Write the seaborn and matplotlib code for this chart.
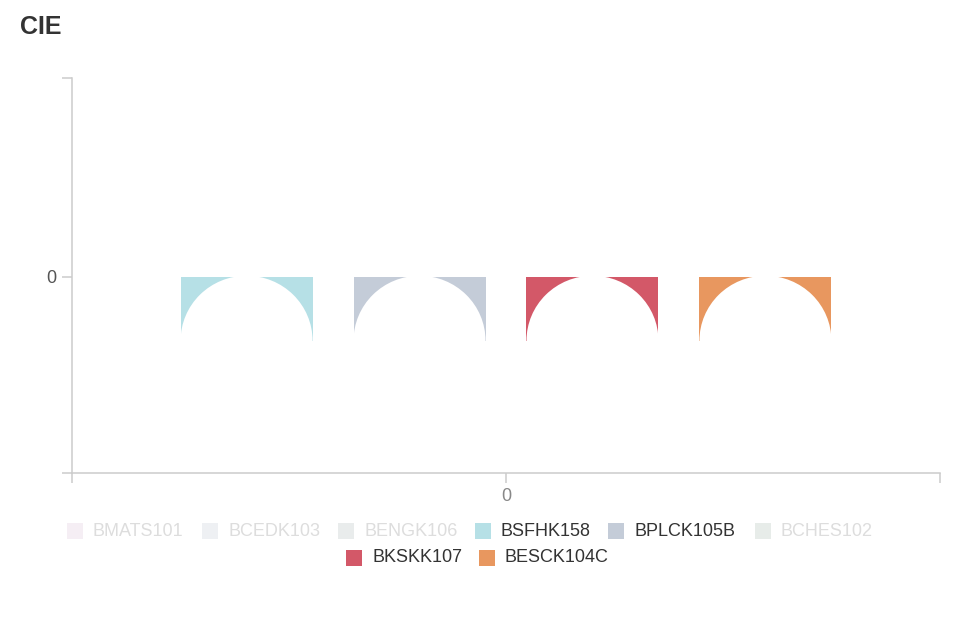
import matplotlib
matplotlib.use("Agg")
import matplotlib.pyplot as plt
from matplotlib.patches import Rectangle, Ellipse
import seaborn as sns
import pandas as pd

# ---- data ----
series_names = ["BMATS101", "BCEDK103", "BENGK106", "BSFHK158",
                "BPLCK105B", "BCHES102", "BKSKK107", "BESCK104C"]
series_colors = ["#b6e0e6", "#c4ccd8", "#e6ebe8", "#b6e0e6",
                 "#c4ccd8", "#e6ebe8", "#d35868", "#e8975f"]
hidden_icon_colors = ["#f5eef4", "#eef0f3", "#e9ecec", None,
                      None, "#e7ece9", None, None]
series_visible = [False, False, False, True, True, False, True, True]
category = "0"
visible_values = [-0.32, -0.32, -0.32, -0.32]   # BSFHK158, BPLCK105B, BKSKK107, BESCK104C

visible_names = [n for n, v in zip(series_names, series_visible) if v]
palette = {n: c for n, c in zip(series_names, series_colors)}
df = pd.DataFrame({"cat": [category] * len(visible_names),
                   "series": visible_names,
                   "value": visible_values})

# ---- style ----
sns.set_theme(style="ticks")
plt.rcParams["font.family"] = ["Liberation Sans", "DejaVu Sans"]

W, H = 961, 635
fig = plt.figure(figsize=(W / 100, H / 100), dpi=100)
ax = fig.add_axes([72 / W, 1 - 473 / H, 868 / W, 395 / H])

sns.barplot(data=df, x="cat", y="value", hue="series", hue_order=visible_names,
            palette=palette, width=0.797, gap=0.237, saturation=1,
            errorbar=None, linewidth=0, legend=False, ax=ax)

ax.set_xlim(-0.5, 0.5)
ax.set_ylim(-0.985, 1.0)
ax.set_xlabel("")
ax.set_ylabel("")
ax.set_xticks([-0.5, 0, 0.5], ["", category, ""])
ax.set_yticks([-0.985, 0, 1.0], ["", "0", ""])
axis_col = "#cccccc"
for s in ["top", "right"]:
    ax.spines[s].set_visible(False)
for s in ["left", "bottom"]:
    ax.spines[s].set_color(axis_col)
    ax.spines[s].set_linewidth(1.1)
ax.tick_params(axis="x", colors=axis_col, length=7, width=1.1, pad=4,
               labelsize=13, labelcolor="#888888")
ax.tick_params(axis="y", colors=axis_col, length=7, width=1.1, pad=4,
               labelsize=13, labelcolor="#555555")
ax.grid(False)

# cut-out arcs at the bottom of each bar (as rendered in the reference)
for bar in list(ax.patches):
    x, y = bar.get_x(), bar.get_y()
    w, h = bar.get_width(), bar.get_height()
    cx = x + w / 2
    cy = min(y, y + h)
    e = Ellipse((cx, cy), width=w, height=2 * abs(h) * 1.02,
                facecolor="white", edgecolor="none", zorder=bar.get_zorder() + 0.1)
    ax.add_patch(e)
    e.set_clip_path(bar)

# ---- title ----
fig.text(20 / W, 1 - 27 / H, "CIE", fontsize=18, fontweight="bold",
         color="#333333", va="center", ha="left")

# ---- legend (manual, two centered rows) ----
legend_layout = [(67, 531), (202, 531), (338, 531), (475, 531),
                 (608, 531), (755, 531), (346, 558), (479, 558)]
icon = 16
for name, col, hcol, vis, (lx, ly) in zip(series_names, series_colors,
                                          hidden_icon_colors, series_visible,
                                          legend_layout):
    fc = col if vis else hcol
    tc = "#333333" if vis else "#dddddd"
    fig.add_artist(Rectangle((lx / W, 1 - (ly + icon / 2) / H), icon / W, icon / H,
                             transform=fig.transFigure, facecolor=fc,
                             edgecolor="none"))
    fig.text((lx + 26) / W, 1 - ly / H, name, fontsize=13, color=tc,
             va="center", ha="left")

fig.savefig("out.png", dpi=100, facecolor="white")
